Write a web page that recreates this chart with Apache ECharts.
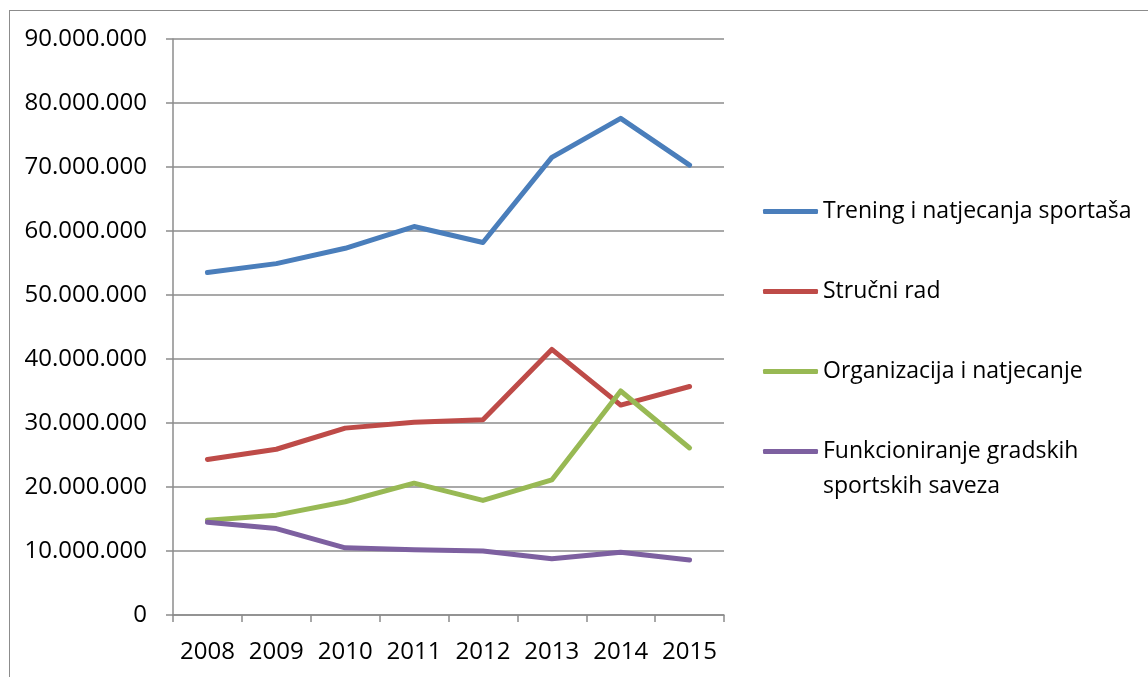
<!DOCTYPE html>
<html>
<head>
<meta charset="utf-8">
<script src="https://cdn.jsdelivr.net/npm/echarts@6/dist/echarts.min.js"></script>
<style>
  html, body { margin: 0; padding: 0; background: #fff; }
  #frame { position: absolute; left: 9px; top: 10px; width: 1150px; height: 700px; border: 1.5px solid #8c8c8c; box-sizing: border-box; }
  #chart { position: absolute; left: 0; top: 0; width: 1148px; height: 677px; }
</style>
</head>
<body>
<div id="frame"></div>
<div id="chart"></div>
<script>
const years = ['2008', '2009', '2010', '2011', '2012', '2013', '2014', '2015']
const seriesNames = [
  'Trening i natjecanja sportaša',
  'Stručni rad',
  'Organizacija i natjecanje',
  'Funkcioniranje gradskih sportskih saveza'
]
const trening = [53500000, 54900000, 57300000, 60700000, 58200000, 71500000, 77600000, 70300000]
const strucniRad = [24300000, 25900000, 29200000, 30100000, 30500000, 41500000, 32800000, 35700000]
const organizacija = [14800000, 15600000, 17700000, 20600000, 17900000, 21100000, 35000000, 26100000]
const funkcioniranje = [14500000, 13500000, 10500000, 10200000, 10000000, 8800000, 9800000, 8600000]
const colors = ['#4a7ebb', '#be4b48', '#98b954', '#7d60a0']
const yMax = 90000000
const yStep = 10000000

const font = '"Open Sans", sans-serif'
const gray = '#8c8c8c'

function fmt(v) {
  return String(v).replace(/\B(?=(\d{3})+(?!\d))/g, '.')
}

const chart = echarts.init(document.getElementById('chart'))

const values = [trening, strucniRad, organizacija, funkcioniranje]

chart.setOption({
  animation: false,
  color: colors,
  grid: { left: 173, right: 424, top: 39, bottom: 62, containLabel: false },
  legend: {
    orient: 'vertical',
    left: 763,
    top: 193,
    padding: 0,
    icon: 'roundRect',
    itemWidth: 55,
    itemHeight: 5,
    itemGap: 43,
    data: seriesNames,
    // the long name wraps in the original; second line is drawn below as graphic
    formatter: n => n === seriesNames[3] ? 'Funkcioniranje gradskih' : n,
    textStyle: { fontFamily: font, fontSize: 23, color: '#000', lineHeight: 37 }
  },
  graphic: [{
    type: 'text',
    left: 823,
    top: 475,
    style: { text: 'sportskih saveza', fontFamily: font, fontSize: 23, fill: '#000' }
  }],
  xAxis: {
    type: 'category',
    data: years,
    boundaryGap: true,
    axisLine: { lineStyle: { color: gray, width: 1.5 } },
    axisTick: { show: true, interval: 0, length: 7, lineStyle: { color: gray, width: 1.5 } },
    axisLabel: { interval: 0, fontFamily: font, fontSize: 24, color: '#000', margin: 25 }
  },
  yAxis: {
    type: 'value',
    min: 0,
    max: yMax,
    interval: yStep,
    axisLine: { show: true, lineStyle: { color: gray, width: 1.5 } },
    axisTick: { show: true, length: 7, lineStyle: { color: gray, width: 1.5 } },
    splitLine: { lineStyle: { color: gray, width: 1.5 } },
    axisLabel: { fontFamily: font, fontSize: 24, color: '#000', margin: 26, formatter: fmt }
  },
  series: seriesNames.map((n, i) => ({
    name: n,
    type: 'line',
    data: values[i],
    symbol: 'none',
    lineStyle: { width: 5, color: colors[i], cap: 'round', join: 'round' }
  }))
})
</script>
</body>
</html>
